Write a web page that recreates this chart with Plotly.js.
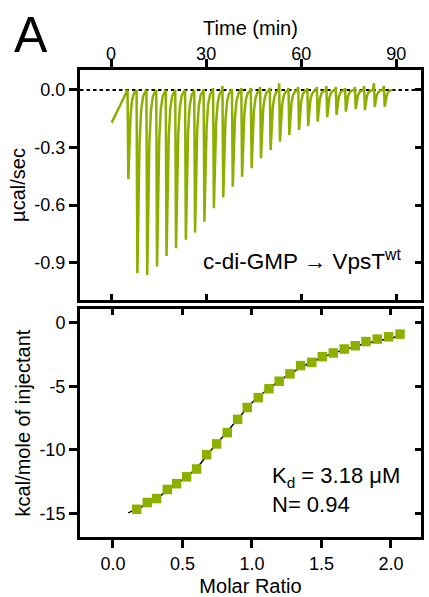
<!DOCTYPE html>
<html><head><meta charset="utf-8">
<script src="https://cdn.plot.ly/plotly-3.0.1.min.js"></script>
<style>html,body{margin:0;padding:0;background:#fff}#chart{width:429px;height:597px}</style>
</head><body><div id="chart"></div>
<script>
// ---- Top panel: raw thermogram ----
const preTime = [0.2, 4.6, 5.0];
const preVal = [-0.17, -0.017, 0.0];
const injTime = [5.45, 8.3, 11.4, 14.5, 17.5, 20.5, 23.6, 26.5, 29.45, 32.45, 35.4, 38.4, 41.35, 44.35, 47.3, 50.35, 53.3, 56.25, 59.3, 62.2, 65.2, 68.2, 71.15, 74.1, 77.2, 80.1, 83.2, 86.35];
const peakMin = [-0.465, -0.955, -0.964, -0.92, -0.865, -0.825, -0.78, -0.743, -0.686, -0.616, -0.56, -0.504, -0.452, -0.408, -0.356, -0.3125, -0.269, -0.234, -0.208, -0.1875, -0.165, -0.142, -0.130, -0.113, -0.100, -0.104, -0.087, -0.087];
const dropTop = [0.0, 0.0, 0.0, 0.0, 0.0, 0.0, 0.0, 0.0, 0.005, 0.01, 0.02, 0.005, 0.01, 0.01, 0.015, 0.01, 0.035, 0.01, 0.015, 0.01, 0.015, 0.02, 0.015, 0.01, 0.015, 0.02, 0.035, 0.02];
// recovery profile of one injection peak (offset after minimum, fraction of depth)
const recoveryDt = [0, 0.3, 0.7, 1.2, 1.8, 2.5];
const recoveryFrac = [1, 0.55, 0.28, 0.11, 0.035, 0.01];

// ---- Bottom panel: integrated heats ----
const molarRatio = [0.171, 0.247, 0.314, 0.391, 0.458, 0.530, 0.602, 0.674, 0.746, 0.822, 0.897, 0.966, 1.045, 1.122, 1.196, 1.273, 1.350, 1.430, 1.506, 1.585, 1.664, 1.743, 1.820, 1.901, 1.983, 2.065];
const heat = [-14.67, -14.14, -13.83, -13.11, -12.66, -12.12, -11.50, -10.38, -9.53, -8.64, -7.60, -6.67, -5.89, -5.19, -4.60, -4.02, -3.37, -3.12, -2.67, -2.38, -2.07, -1.81, -1.48, -1.29, -1.11, -0.90];
const fitX = [0.11, 0.2, 0.3, 0.4, 0.5, 0.6, 0.7, 0.8, 0.9, 1.0, 1.1, 1.2, 1.3, 1.4, 1.5, 1.6, 1.7, 1.8, 1.9, 2.0, 2.06];
const fitY = [-14.95, -14.5, -13.95, -13.1, -12.35, -11.45, -10.1, -8.85, -7.55, -6.3, -5.35, -4.55, -3.85, -3.25, -2.75, -2.35, -2.0, -1.7, -1.45, -1.22, -1.05];

const timeTicks = [0, 30, 60, 90];
const timeTickText = ['0', '30', '60', '90'];
const powerTicks = [0, -0.3, -0.6, -0.9];
const powerTickText = ['0.0', '-0.3', '-0.6', '-0.9'];
const ratioTicks = [0, 0.5, 1, 1.5, 2];
const ratioTickText = ['0.0', '0.5', '1.0', '1.5', '2.0'];
const heatTicks = [0, -5, -10, -15];
const heatTickText = ['0', '-5', '-10', '-15'];

const GREEN = '#8db000';

const tX = preTime.slice(), tY = preVal.slice();
injTime.forEach((t, i) => {
  tX.push(t - 0.25); tY.push(dropTop[i]);
  recoveryDt.forEach((d, j) => { tX.push(t + d); tY.push(peakMin[i] * recoveryFrac[j]); });
});

// empty traces that only register the overlay axes (tick-mirror and label axes)
const axisHolders = [['x3', 'y'], ['x', 'y3'], ['x4', 'y2'], ['x2', 'y4'], ['x5', 'y'], ['x6', 'y2']]
  .map(([xa, ya]) => ({x: [], y: [], xaxis: xa, yaxis: ya, mode: 'markers', hoverinfo: 'skip', showlegend: false}));

const traces = [
  {x: tX, y: tY, xaxis: 'x', yaxis: 'y', mode: 'lines', line: {color: GREEN, width: 2.5}, hoverinfo: 'skip'},
  {x: fitX, y: fitY, xaxis: 'x2', yaxis: 'y2', mode: 'lines', line: {color: '#000', width: 1.5, shape: 'spline'}},
  {x: molarRatio, y: heat, xaxis: 'x2', yaxis: 'y2', mode: 'markers', marker: {symbol: 'square', size: 9.5, color: GREEN, line: {width: 0}}}
].concat(axisHolders);

const XR1 = [-9.8, 97.8], YR1 = [-1.094, 0.104];
const XR2 = [-0.237, 2.216], YR2 = [-16.85, 1.07];
const tickFont = {size: 18, color: '#000'};
const base = {showgrid: false, zeroline: false, showline: true, linewidth: 3, linecolor: '#000', mirror: true,
  ticks: 'outside', ticklen: 8, tickwidth: 3, tickcolor: '#000', tickfont: tickFont, automargin: false, fixedrange: true};
const inner = {showgrid: false, zeroline: false, showline: false, ticks: 'inside', ticklen: 6, tickwidth: 3,
  tickcolor: '#000', showticklabels: false, automargin: false, tickmode: 'array', fixedrange: true};
// label-only axes (tick labels placed at the reference's distance from the frame)
const lab = {showgrid: false, zeroline: false, showline: false, ticks: 'outside', tickwidth: 1,
  tickcolor: 'rgba(0,0,0,0)', tickfont: tickFont, automargin: false, tickmode: 'array', fixedrange: true};

const layout = {
  width: 429, height: 597,
  margin: {l: 80, r: 8, t: 70, b: 60},
  paper_bgcolor: '#fff', plot_bgcolor: '#fff',
  font: {family: 'Liberation Sans, Arial, sans-serif', color: '#000'},
  showlegend: false,
  xaxis: Object.assign({}, base, {domain: [0, 1], anchor: 'y', side: 'top', range: XR1,
    tickmode: 'array', tickvals: timeTicks, showticklabels: false}),
  yaxis: Object.assign({}, base, {domain: [0.5075, 1], anchor: 'x', range: YR1,
    tickmode: 'array', tickvals: powerTicks, ticktext: powerTickText,
    title: {text: 'µcal/sec', font: {size: 20}, standoff: 4}}),
  xaxis2: Object.assign({}, base, {domain: [0, 1], anchor: 'y2', side: 'bottom', range: XR2,
    tickmode: 'array', tickvals: ratioTicks, showticklabels: false}),
  yaxis2: Object.assign({}, base, {domain: [0, 0.488], anchor: 'x2', range: YR2,
    tickmode: 'array', tickvals: heatTicks, ticktext: heatTickText,
    title: {text: 'kcal/mole of injectant', font: {size: 20}, standoff: 4}}),
  xaxis3: Object.assign({}, inner, {overlaying: 'x', anchor: 'y', side: 'bottom', range: XR1, tickvals: timeTicks}),
  yaxis3: Object.assign({}, inner, {overlaying: 'y', anchor: 'x', side: 'right', range: YR1, tickvals: powerTicks}),
  xaxis4: Object.assign({}, inner, {overlaying: 'x2', anchor: 'y2', side: 'top', range: XR2, tickvals: ratioTicks}),
  yaxis4: Object.assign({}, inner, {overlaying: 'y2', anchor: 'x2', side: 'right', range: YR2, tickvals: heatTicks}),
  xaxis5: Object.assign({}, lab, {overlaying: 'x', anchor: 'y', side: 'top', range: XR1, ticklen: 2,
    tickvals: timeTicks, ticktext: timeTickText,
    title: {text: 'Time (min)', font: {size: 20}, standoff: 2}}),
  xaxis6: Object.assign({}, lab, {overlaying: 'x2', anchor: 'y2', side: 'bottom', range: XR2, ticklen: 10,
    tickvals: ratioTicks, ticktext: ratioTickText,
    title: {text: 'Molar Ratio', font: {size: 20}, standoff: 6}}),
  shapes: [
    {type: 'line', xref: 'x domain', yref: 'y', x0: 0, x1: 1, y0: 0, y1: 0,
     line: {color: '#000', width: 2, dash: '3.5px,3px'}, layer: 'below'}
  ],
  annotations: [
    {text: 'A', xref: 'paper', yref: 'paper', x: -0.2, y: 1.075, xanchor: 'left', yanchor: 'middle',
     showarrow: false, font: {size: 50, color: '#000'}},
    {text: 'c-di-GMP → VpsT<sup>wt</sup>', xref: 'paper', yref: 'paper', x: 0.947, y: 0.593,
     xanchor: 'right', yanchor: 'middle', showarrow: false, font: {size: 22.5, color: '#000'}},
    {text: 'K<sub>d</sub> = 3.18 μM<br>N= 0.94', xref: 'paper', yref: 'paper', x: 0.557, y: 0.10,
     xanchor: 'left', yanchor: 'middle', align: 'left', showarrow: false, font: {size: 22, color: '#000'}}
  ]
};

Plotly.newPlot('chart', traces, layout, {displayModeBar: false, staticPlot: true});
</script>
</body></html>
